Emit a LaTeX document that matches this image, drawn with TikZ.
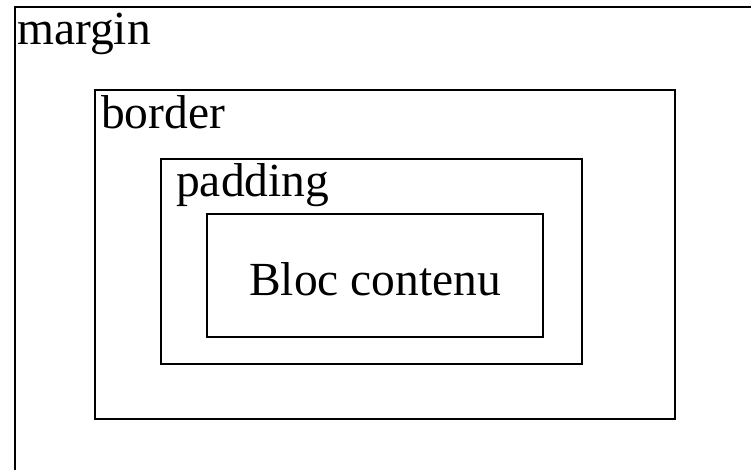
\documentclass[tikz,border=0pt]{standalone}
\usepackage{fontspec}
\setmainfont{Liberation Serif}
\begin{document}
\begin{tikzpicture}[x=1pt,y=-1pt,
  box/.style={draw=black,line width=2pt,rectangle,inner sep=0pt,anchor=north west},
  lbl/.style={anchor=base west,inner sep=0pt,font=\fontsize{47.5}{57}\selectfont}]
\useasboundingbox (0,0) rectangle (751,470);
\clip (0,0) rectangle (751,470);
\node[box,minimum width=800pt,minimum height=520pt] (margin) at (14,6) {};
\node[box,minimum width=580pt,minimum height=328pt] (border) at (94,89.5) {};
\node[box,minimum width=421pt,minimum height=205pt] (padding) at (160,158) {};
\node[box,minimum width=336pt,minimum height=123pt] (content) at (206,213) {};
\node[lbl] (tm) at (17,45) {margin};
\node[lbl] (tb) at (101,129) {border};
\node[lbl] (tp) at (176,196.5) {padding};
\node[lbl] (tc) at (249,295) {Bloc contenu};
\end{tikzpicture}
\end{document}
